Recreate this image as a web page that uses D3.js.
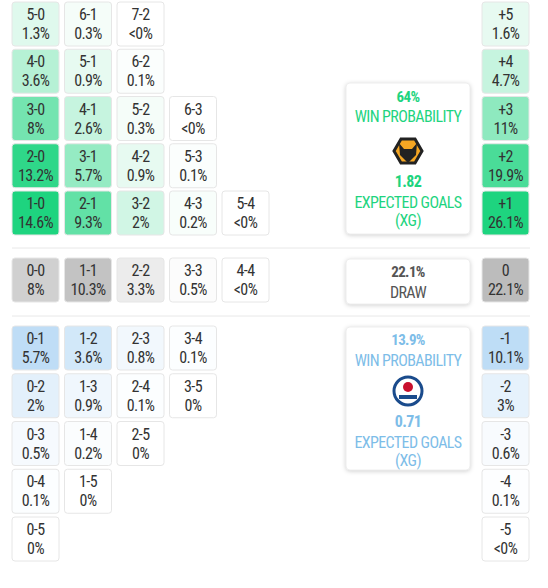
<!DOCTYPE html>
<html><head><meta charset="utf-8">
<script src="https://cdn.jsdelivr.net/npm/d3@7"></script>
<style>body{margin:0;background:#fff}text{font-family:"Liberation Sans Narrow","Roboto Condensed",Roboto,sans-serif;letter-spacing:-0.6px}</style>
</head><body><svg id="c" width="548" height="588"></svg>
<script>
// [home, away, probability %, label]
var homeWins = [
  [5,0,1.3],[6,1,0.3],[7,2,0,'<0%'],
  [4,0,3.6],[5,1,0.9],[6,2,0.1],
  [3,0,8],[4,1,2.6],[5,2,0.3],[6,3,0,'<0%'],
  [2,0,13.2],[3,1,5.7],[4,2,0.9],[5,3,0.1],
  [1,0,14.6],[2,1,9.3],[3,2,2],[4,3,0.2],[5,4,0,'<0%']
];
var draws = [[0,0,8],[1,1,10.3],[2,2,3.3],[3,3,0.5],[4,4,0,'<0%']];
var awayWins = [
  [0,1,5.7],[1,2,3.6],[2,3,0.8],[3,4,0.1],
  [0,2,2],[1,3,0.9],[2,4,0.1],[3,5,0],
  [0,3,0.5],[1,4,0.2],[2,5,0],
  [0,4,0.1],[1,5,0],
  [0,5,0]
];
var diffs = [[5,1.6],[4,4.7],[3,11],[2,19.9],[1,26.1],[0,22.1],[-1,10.1],[-2,3],[-3,0.6],[-4,0.1],[-5,0,'<0%']];
var homeWinPct = '64%', homeXg = '1.82', drawPct = '22.1%', awayWinPct = '13.9%', awayXg = '0.71';

var svg = d3.select('#c');
var col = d3.scaleLinear().domain([0,4]).range([12,222]);
var rowH = d3.scaleLinear().domain([0,4]).range([2,191]);
var rowA = d3.scaleLinear().domain([0,4]).range([326,517]);
var W = 47, H = 44;
var green = d3.scalePow().exponent(0.8).domain([0,1]).range(['#ffffff','#1ed47f']).clamp(true);
var gray = d3.scaleLinear().domain([0,1]).range(['#ffffff','#b0b0b0']);
var blue = d3.scalePow().exponent(0.8).domain([0,1]).range(['#ffffff','#bcdcf6']).clamp(true);

function cell(x, y, fill, l1, l2) {
  var g = svg.append('g').attr('transform','translate('+x+','+y+')');
  g.append('rect').attr('width',W).attr('height',H).attr('rx',3)
    .attr('fill',fill).attr('stroke','#e6e6e6');
  g.append('text').attr('x',W/2).attr('y',18).attr('text-anchor','middle')
    .attr('font-size',16).attr('fill','#333').text(l1);
  g.append('text').attr('x',W/2).attr('y',37).attr('text-anchor','middle')
    .attr('font-size',16).attr('fill','#333').text(l2);
}
function lbl(d){ return d[3] || (d[2] + '%'); }

var scoreMax = 14.6;
homeWins.forEach(function(d){
  var c = d[1], r = 4 - (d[0] - d[1] - 1);
  cell(col(c), rowH(r), green(d[2]/scoreMax), d[0]+'-'+d[1], lbl(d));
});
draws.forEach(function(d){
  cell(col(d[0]), 258, gray(d[2]/13.5), d[0]+'-'+d[1], lbl(d));
});
awayWins.forEach(function(d){
  var c = d[0], r = d[1] - d[0] - 1;
  cell(col(c), rowA(r), blue(d[2]/6), d[0]+'-'+d[1], lbl(d));
});
var diffMax = d3.max(diffs, function(d){return d[1];});
diffs.forEach(function(d){
  var y, f;
  if (d[0] > 0) { y = rowH(5 - d[0]); f = green(d[1]/diffMax); }
  else if (d[0] === 0) { y = 258; f = gray(d[1]/diffMax); }
  else { y = rowA(-d[0] - 1); f = blue(d[1]/10.5); }
  cell(482, y, f, d[0] > 0 ? '+'+d[0] : String(d[0]), d[2] || (d[1]+'%'));
});

svg.append('line').attr('x1',12).attr('x2',530).attr('y1',248).attr('y2',248).attr('stroke','#e8e8e8');
svg.append('line').attr('x1',12).attr('x2',530).attr('y1',316).attr('y2',316).attr('stroke','#e8e8e8');

function infoBox(y, h, color, lines) {
  var g = svg.append('g').attr('transform','translate(346,'+y+')');
  g.append('rect').attr('width',124).attr('height',h).attr('rx',4).attr('fill','#fff')
    .attr('stroke','#eee').style('filter','drop-shadow(0 1px 2px rgba(0,0,0,0.18))');
  lines.forEach(function(l){
    g.append('text').attr('x',62).attr('y',l[0]).attr('text-anchor','middle')
      .attr('font-size',l[2]||16).attr('font-weight',l[3]||'normal').attr('fill',color).text(l[1]);
  });
  return g;
}
var hg = infoBox(83, 151, '#1ed47f', [[19,homeWinPct,15,'bold'],[39,'WIN PROBABILITY'],[104,homeXg,16,'bold'],[125,'EXPECTED GOALS'],[143,'(XG)']]);
var hex = d3.range(6).map(function(i){var a=Math.PI/3*i; return [62+14*Math.cos(a), 68+14*Math.sin(a)];});
hg.append('polygon').attr('points',hex.join(' ')).attr('fill','#f5a623').attr('stroke','#222').attr('stroke-width',3);
hg.append('path').attr('d','M53,60 L58,66 L66,66 L71,60 L70,72 L62,80 L54,72 Z').attr('fill','#222');

infoBox(259, 45, '#555', [[18,drawPct,15,'bold'],[39,'DRAW',16]]);

var ag = infoBox(327, 143, '#7dbde8', [[18,awayWinPct,15,'bold'],[39,'WIN PROBABILITY'],[100,awayXg,16,'bold'],[121,'EXPECTED GOALS'],[139,'(XG)']]);
ag.append('circle').attr('cx',62).attr('cy',64).attr('r',14).attr('fill','#fff').attr('stroke','#1a4b8c').attr('stroke-width',3);
ag.append('circle').attr('cx',62).attr('cy',60).attr('r',5).attr('fill','#c8102e');
ag.append('rect').attr('x',53).attr('y',68).attr('width',18).attr('height',4).attr('fill','#1a4b8c');
</script></body></html>
